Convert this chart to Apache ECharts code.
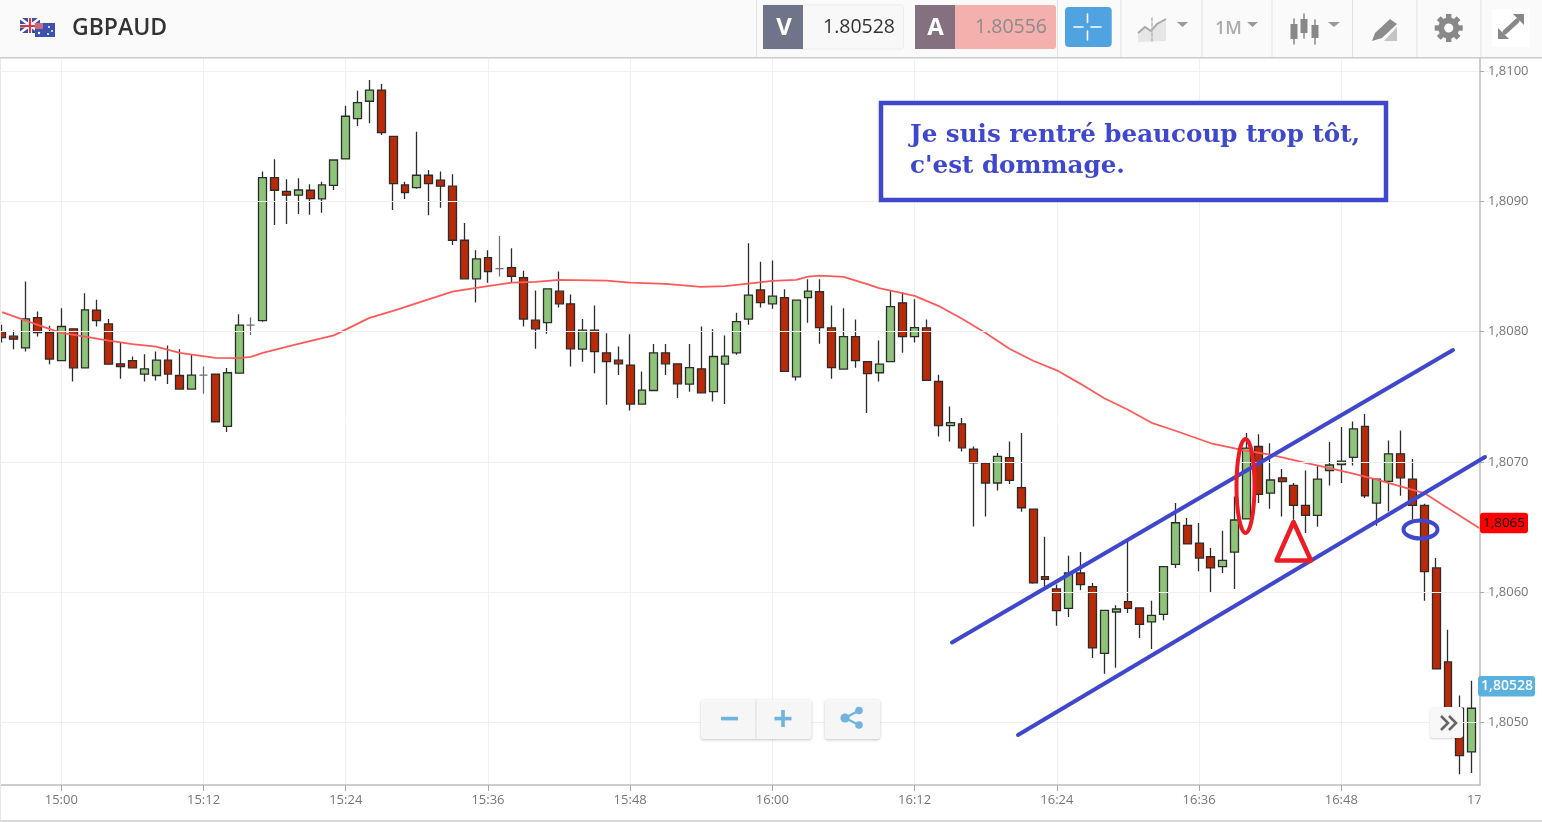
<!DOCTYPE html>
<html><head><meta charset="utf-8">
<style>html,body{margin:0;padding:0;background:#fff}#c{width:1542px;height:822px}</style>
<script src="https://cdn.jsdelivr.net/npm/echarts@6/dist/echarts.min.js"></script>
</head><body><div id="c"></div>
<script>
const times = ['14:55','14:56','14:57','14:58','14:59','15:00','15:01','15:02','15:03','15:04','15:05','15:06','15:07','15:08','15:09','15:10','15:11','15:12','15:13','15:14','15:15','15:16','15:17','15:18','15:19','15:20','15:21','15:22','15:23','15:24','15:25','15:26','15:27','15:28','15:29','15:30','15:31','15:32','15:33','15:34','15:35','15:36','15:37','15:38','15:39','15:40','15:41','15:42','15:43','15:44','15:45','15:46','15:47','15:48','15:49','15:50','15:51','15:52','15:53','15:54','15:55','15:56','15:57','15:58','15:59','16:00','16:01','16:02','16:03','16:04','16:05','16:06','16:07','16:08','16:09','16:10','16:11','16:12','16:13','16:14','16:15','16:16','16:17','16:18','16:19','16:20','16:21','16:22','16:23','16:24','16:25','16:26','16:27','16:28','16:29','16:30','16:31','16:32','16:33','16:34','16:35','16:36','16:37','16:38','16:39','16:40','16:41','16:42','16:43','16:44','16:45','16:46','16:47','16:48','16:49','16:50','16:51','16:52','16:53','16:54','16:55','16:56','16:57','16:58','16:59','17:00'];
const xTickLabels = ['15:00','15:12','15:24','15:36','15:48','16:00','16:12','16:24','16:36','16:48','17:00'];
const yTickLabels = [1.805,1.806,1.807,1.808,1.809,1.81];
const opens = [1.808000,1.807965,1.807875,1.808108,1.807993,1.807778,1.808021,1.807722,1.808165,1.808059,
1.807753,1.807778,1.807674,1.807663,1.807781,1.807663,1.807559,1.807666,1.807674,1.807272,
1.807681,1.808050,1.808085,1.809182,1.809077,1.809047,1.809085,1.809018,1.809123,1.809325,
1.809634,1.809768,1.809854,1.809499,1.809126,1.809105,1.809200,1.809162,1.809116,1.808701,
1.808405,1.808568,1.808484,1.808491,1.808415,1.808088,1.808069,1.808310,1.808213,1.807865,
1.808011,1.807837,1.807781,1.807743,1.807444,1.807548,1.807837,1.807753,1.807597,1.807714,
1.807540,1.807750,1.807837,1.808096,1.808320,1.808213,1.808261,1.807653,1.808261,1.808307,
1.808029,1.807712,1.807962,1.807770,1.807684,1.807770,1.808221,1.807962,1.808029,1.807617,
1.807279,1.807292,1.807098,1.806991,1.806838,1.807032,1.806802,1.806638,1.806119,1.806025,
1.805876,1.806147,1.806042,1.805531,1.805848,1.805927,1.805879,1.805772,1.805830,1.806213,
1.806512,1.806377,1.806272,1.806196,1.806308,1.806562,1.807118,1.806761,1.806878,1.806819,
1.806666,1.806589,1.806934,1.806980,1.807034,1.807272,1.806684,1.806850,1.807062,1.806868,
1.806666,1.806186,1.805465,1.805110,1.804774];
const closes = [1.807954,1.807942,1.808098,1.807993,1.807789,1.808039,1.807722,1.808167,1.808085,1.807750,
1.807732,1.807722,1.807714,1.807781,1.807674,1.807559,1.807666,1.807666,1.807308,1.807684,
1.808050,1.808050,1.809182,1.809085,1.809047,1.809087,1.809021,1.809126,1.809317,1.809653,
1.809757,1.809854,1.809527,1.809136,1.809067,1.809200,1.809136,1.809116,1.808701,1.808405,
1.808558,1.808461,1.808484,1.808425,1.808096,1.808021,1.808328,1.808213,1.807868,1.808011,
1.807847,1.807770,1.807753,1.807444,1.807551,1.807837,1.807753,1.807599,1.807724,1.807530,
1.807809,1.807812,1.808077,1.808280,1.808223,1.808272,1.807694,1.808241,1.808310,1.808031,
1.807724,1.807962,1.807778,1.807678,1.807750,1.808192,1.807962,1.808031,1.807625,1.807279,
1.807302,1.807108,1.806993,1.806838,1.807042,1.806858,1.806648,1.806071,1.806098,1.805858,
1.806147,1.806058,1.805572,1.805860,1.805871,1.805876,1.805753,1.805822,1.806196,1.806533,
1.806370,1.806262,1.806186,1.806244,1.806554,1.807106,1.806750,1.806861,1.806848,1.806666,
1.806589,1.806868,1.806976,1.807006,1.807254,1.806740,1.806868,1.807062,1.806878,1.806666,
1.806157,1.805411,1.805114,1.804746,1.805109];
const lows = [1.807916,1.807865,1.807847,1.807962,1.807750,1.807778,1.807617,1.807722,1.808039,1.807745,
1.807638,1.807722,1.807617,1.807625,1.807597,1.807559,1.807559,1.807523,1.807302,1.807229,
1.807681,1.807973,1.808075,1.808819,1.808826,1.808903,1.808896,1.808913,1.809087,1.809325,
1.809578,1.809599,1.809509,1.808934,1.809018,1.809097,1.808893,1.808951,1.808665,1.808405,
1.808223,1.808374,1.808422,1.808376,1.808039,1.807868,1.807983,1.808185,1.807732,1.807768,
1.807681,1.807438,1.807666,1.807395,1.807444,1.807548,1.807666,1.807490,1.807538,1.807530,
1.807464,1.807444,1.807822,1.808052,1.808185,1.808175,1.807694,1.807625,1.808067,1.807906,
1.807638,1.807712,1.807722,1.807375,1.807617,1.807770,1.807837,1.807916,1.807625,1.807195,
1.807157,1.807080,1.806505,1.806581,1.806781,1.806830,1.806618,1.806065,1.806045,1.805743,
1.805810,1.806014,1.805495,1.805373,1.805419,1.805841,1.805649,1.805564,1.805784,1.806186,
1.806370,1.806160,1.805994,1.806147,1.806025,1.806562,1.806684,1.806641,1.806581,1.806556,
1.806454,1.806502,1.806819,1.806838,1.806973,1.806723,1.806510,1.806620,1.806740,1.806556,
1.805935,1.805411,1.805100,1.804603,1.804613];
const highs = [1.808052,1.808008,1.808384,1.808154,1.808044,1.808180,1.808021,1.808295,1.808244,1.808096,
1.807916,1.807809,1.807827,1.807847,1.807893,1.807865,1.807827,1.807732,1.807674,1.807720,
1.808134,1.808108,1.809228,1.809323,1.809169,1.809177,1.809131,1.809151,1.809317,1.809734,
1.809849,1.809931,1.809900,1.809499,1.809151,1.809534,1.809241,1.809228,1.809208,1.808834,
1.808625,1.808625,1.808734,1.808640,1.808468,1.808315,1.808328,1.808461,1.808284,1.808096,
1.808200,1.807988,1.807885,1.807980,1.807694,1.807904,1.807904,1.807753,1.807904,1.808039,
1.808019,1.807970,1.808144,1.808678,1.808537,1.808545,1.808326,1.808241,1.808402,1.808402,
1.808200,1.808180,1.808092,1.807775,1.807931,1.808320,1.808303,1.808249,1.808092,1.807668,
1.807425,1.807336,1.807118,1.806991,1.807068,1.807157,1.807221,1.806638,1.806426,1.806058,
1.806280,1.806308,1.806071,1.805864,1.805899,1.806390,1.805879,1.805935,1.806196,1.806684,
1.806569,1.806531,1.806339,1.806472,1.806735,1.807221,1.807213,1.807144,1.806945,1.806838,
1.806934,1.806973,1.807152,1.807267,1.807310,1.807367,1.806868,1.807164,1.807241,1.807022,
1.806679,1.806262,1.805712,1.805206,1.805321];
const maTimes = ['14:55','14:57','14:58','15:00','15:02','15:04','15:06','15:08','15:10','15:13','15:15','15:16','15:17','15:20','15:23','15:26','15:28','15:33','15:35','15:38','15:40','15:42','15:46','15:48','15:51','15:54','15:56','15:58','16:00','16:02','16:03','16:04','16:06','16:08','16:09','16:12','16:14','16:16','16:18','16:20','16:22','16:24','16:26','16:28','16:30','16:32','16:34','16:37','16:40','16:42','16:45','16:47','16:49','16:51','16:55','16:56','16:58','16:59','17:00'];
const maValues = [1.808149,1.808085,1.808052,1.807990,1.807962,1.807931,1.807904,1.807885,1.807837,1.807799,1.807796,1.807806,1.807837,1.807906,1.807971,1.808105,1.808159,1.808307,1.808336,1.808376,1.808382,1.808397,1.808392,1.808376,1.808366,1.808343,1.808349,1.808369,1.808389,1.808397,1.808422,1.808430,1.808420,1.808364,1.808333,1.808274,1.808198,1.808098,1.807990,1.807868,1.807776,1.807703,1.807599,1.807488,1.807400,1.807300,1.807239,1.807143,1.807085,1.807055,1.806993,1.806953,1.806909,1.806863,1.806761,1.806702,1.806587,1.806529,1.806472];

const candleData = times.map((t,i)=> i<opens.length ? [opens[i],closes[i],lows[i],highs[i]] : '-');
const maData = maTimes.map((t,i)=>[t,maValues[i]]);
const isTick = (i)=>xTickLabels.indexOf(times[i])>=0;
const fmtY = v=>v.toFixed(4).replace('.',',');

const G=[];
const rect=(x,y,w,h,fill,z,extra)=>G.push(Object.assign({type:'rect',shape:{x,y,width:w,height:h,r:(extra&&extra.r)||0},style:Object.assign({fill},(extra&&extra.style)||{}),z,silent:true},extra&&extra.px!==undefined?{rotation:extra.rot,x:extra.px,y:extra.py}:{}));
const line=(x1,y1,x2,y2,stroke,lw,z,dash)=>G.push({type:'line',shape:{x1,y1,x2,y2},style:{stroke,lineWidth:lw,lineCap:'round',lineDash:dash||null},z,silent:true});
const poly=(pts,fill,z)=>G.push({type:'polygon',shape:{points:pts},style:{fill},z,silent:true});
const text=(t,x,y,font,fill,z,align)=>G.push({type:'text',style:{text:t,x,y,font,fill,textAlign:align||'left',textVerticalAlign:'middle'},z,silent:true});
const circ=(cx,cy,r,fill,z)=>G.push({type:'circle',shape:{cx,cy,r},style:{fill},z,silent:true});

// right margin cover (between series and y axis)
rect(1480.5,58,62,764,'#ffffff',3);
rect(0,820,1542,2,'#d9d9d9',4);
rect(0,58,1,762,'#e8e8e8',4);

// header
const HZ=10;
rect(0,0,1542,57,'#fafafa',HZ);
rect(0,57,1542,1.4,'#cccccc',HZ);
[756,1057,1120.5,1201.5,1271.5,1352,1416.5,1480.5].forEach(x=>rect(x,0,1,57,'#e2e2e2',HZ));
// flags
rect(20,18,20,15,'#3b4ea6',HZ+1);
line(20,18,40,33,'#ffffff',2.5,HZ+1); line(40,18,20,33,'#ffffff',2.5,HZ+1);
rect(28,18,4,15,'#f2f2f2',HZ+1); rect(20,24,20,3.5,'#f2f2f2',HZ+1);
rect(29,18,2,15,'#dc3545',HZ+1); rect(20,25,20,2,'#dc3545',HZ+1);
rect(35,23,20,14,'#3b52ae',HZ+2);
rect(35,23,8,6,'#c86a80',HZ+2);
circ(39,33,1.2,'#fff',HZ+2); circ(49,27,1,'#fff',HZ+2); circ(52,31,1,'#fff',HZ+2); circ(48,34,1,'#fff',HZ+2);
text('GBPAUD',72,28.5,'600 23px "Open Sans"','#333333',HZ+1);
// V / A
rect(763,5,140.5,44,'#f8f8f8',HZ+1,{r:3,style:{stroke:'#ececec',lineWidth:1}});
rect(763,5,40,44,'#6f7488',HZ+1);
text('V',784,28,'700 24px "Open Sans"','#ffffff',HZ+2,'center');
text('1.80528',895,27.5,'400 19.5px "Open Sans"','#333333',HZ+2,'right');
rect(915,5,141,44,'#f4b0ad',HZ+1,{r:3});
rect(915,5,40,44,'#84707f',HZ+1);
text('A',935.5,28,'700 24px "Open Sans"','#ffffff',HZ+2,'center');
text('1.80556',1047,27.5,'400 19.5px "Open Sans"','#8b8b8b',HZ+2,'right');
// crosshair button
rect(1065,7,46.7,40,'#4ea3e0',HZ+1,{r:4});
line(1074,27,1083,27,'#fff',1.6,HZ+2); line(1091,27,1101,27,'#fff',1.6,HZ+2);
line(1087.5,14,1087.5,22.5,'#fff',1.6,HZ+2); line(1087.5,31,1087.5,40,'#fff',1.6,HZ+2);
// chart-type icon
poly([[1138,42],[1138,33],[1145,27],[1151,31],[1157,24],[1166,19],[1166,41]],'#e6e6e6',HZ+1);
G.push({type:'polyline',shape:{points:[[1138,33],[1145,27],[1151,31],[1157,24],[1166,19]]},style:{stroke:'#a9a9a9',lineWidth:2,fill:null},z:HZ+2,silent:true});
line(1152,18,1152,42,'#b5b5b5',1.5,HZ+2,[3,2]);
poly([[1177,22],[1188,22],[1182.5,27]],'#999999',HZ+1);
text('1M',1215,28.5,'600 18px "Open Sans"','#ababab',HZ+1);
poly([[1247,22],[1258,22],[1252.5,27]],'#999999',HZ+1);
// candle icon
[[1294,19,44,24,39],[1304,14,38,19,33],[1315,20,44,25,38]].forEach(c=>{line(c[0],c[1],c[0],c[2],'#888888',1.5,HZ+1);rect(c[0]-3.5,c[3],7,c[4]-c[3],'#888888',HZ+1);});
poly([[1328,22],[1340,22],[1334,27]],'#999999',HZ+1);
// pencil/analysis icon
poly([[1384,41],[1397,41],[1397,27]],'#c4c4c4',HZ+1);
poly([[1375,33],[1390,19],[1397,24],[1382,38],[1372,41]],'#8c8c8c',HZ+2);
// gear
[0,Math.PI/4,Math.PI/2,3*Math.PI/4].forEach(a=>rect(-2.7,-14,5.4,28,'#888888',HZ+1,{rot:a,px:1448.7,py:28}));
circ(1448.7,28,10.5,'#888888',HZ+1); circ(1448.7,28,4.6,'#fafafa',HZ+2);
// expand
rect(1492,9,38,38,'#ffffff',HZ+1);
line(1505,32,1517,21,'#888888',5,HZ+2);
poly([[1513,14],[1524,14],[1524,25]],'#888888',HZ+2);
poly([[1498,28],[1498,39],[1509,39]],'#888888',HZ+2);

// price tags
rect(1480,512.7,48,20.5,'#ff0000',9,{r:3});
text('1,8065',1504,523.5,'13.5px "Open Sans"','#111111',9.5,'center');
rect(1478,676,57,20.5,'#5ab0de',9,{r:3});
text('1,80528',1507,686.5,'600 14px "Open Sans"','#ffffff',9.5,'center');

// zoom controls
const sh={shadowBlur:3,shadowColor:'rgba(0,0,0,0.25)',shadowOffsetY:1,opacity:0.92};
rect(701,699.5,110.5,39.5,'#fafafa',6,{r:3,style:sh});
rect(825,699.5,55,39.5,'#fafafa',6,{r:3,style:sh});
rect(755.5,699.5,0.8,39.5,'#d5d5d5',6);
rect(721,716.8,17,3.6,'#6fb3de',7);
rect(774.5,716.8,17,3.6,'#6fb3de',7); rect(781.2,710,3.6,17,'#6fb3de',7);
line(845,718,859,710.5,'#6fb3de',2.4,7); line(845,718,859,725,'#6fb3de',2.4,7);
circ(845,718,4.6,'#6fb3de',7); circ(859,710.5,3.8,'#6fb3de',7); circ(859,725,3.8,'#6fb3de',7);
// scroll button
rect(1430,707,33,31,'#f8f8f8',8.2,{r:3,style:{shadowBlur:2,shadowColor:'rgba(0,0,0,0.18)',shadowOffsetY:1}});
G.push({type:'polyline',shape:{points:[[1441,716],[1448,723],[1441,730]]},style:{stroke:'#666',lineWidth:2.6,fill:null},z:8.3,silent:true});
G.push({type:'polyline',shape:{points:[[1449,716],[1456,723],[1449,730]]},style:{stroke:'#666',lineWidth:2.6,fill:null},z:8.3,silent:true});

// hand-drawn annotations
const BL='#3f48cc',RD='#ed1c24';
G.push({type:'line',shape:{x1:952,y1:642.5,x2:1453,y2:350},style:{stroke:BL,lineWidth:4,lineCap:'round'},z:8,silent:true});
G.push({type:'line',shape:{x1:1018,y1:735,x2:1485,y2:457},style:{stroke:BL,lineWidth:4,lineCap:'round'},z:8,silent:true});
G.push({type:'ellipse',shape:{cx:1245.5,cy:486,rx:9,ry:47},style:{stroke:RD,lineWidth:4,fill:null},z:8,silent:true});
G.push({type:'ellipse',shape:{cx:1420.5,cy:529.5,rx:17,ry:9},style:{stroke:BL,lineWidth:4,fill:null},z:8,silent:true});
G.push({type:'polygon',shape:{points:[[1293.5,522],[1276.5,560.5],[1311,560.5]]},style:{stroke:RD,lineWidth:4.5,fill:null,lineJoin:'round'},z:8,silent:true});
G.push({type:'rect',shape:{x:881,y:103,width:505,height:97},style:{stroke:BL,lineWidth:4.5,fill:'#ffffff'},z:8,silent:true});
text("Je suis rentré beaucoup trop tôt,",910,136,'700 24.6px "DejaVu Serif"',BL,8.5);
text("c'est dommage.",910,167,'700 24.6px "DejaVu Serif"',BL,8.5);

const chart=echarts.init(document.getElementById('c'),null,{renderer:'canvas'});
chart.setOption({
  animation:false,
  backgroundColor:'#ffffff',
  grid:{left:-3.89,top:58,width:1493.35,height:727,containLabel:false,outerBoundsMode:'none'},
  xAxis:{type:'category',data:times,boundaryGap:true,z:0,
    axisLine:{lineStyle:{color:'#bdbdbd',width:1.5}},
    axisTick:{show:true,alignWithLabel:true,length:6,interval:isTick,lineStyle:{color:'#aaaaaa'}},
    axisLabel:{interval:isTick,color:'#777777',fontSize:13,fontFamily:'"Open Sans"',margin:9,showMaxLabel:true,hideOverlap:false},
    splitLine:{show:true,alignWithLabel:true,interval:isTick,lineStyle:{color:'#f0f0f0',width:1}}},
  yAxis:{type:'value',position:'right',offset:-9.46,min:1.80452,max:1.8101,z:5,scale:true,
    axisLine:{show:true,lineStyle:{color:'#bdbdbd',width:1.5}},
    axisTick:{show:true,length:4,customValues:yTickLabels,lineStyle:{color:'#aaaaaa'}},
    axisLabel:{color:'#777777',fontSize:13,fontFamily:'"Open Sans"',margin:8,customValues:yTickLabels,formatter:fmtY},
    splitLine:{show:true,lineStyle:{color:'#f0f0f0',width:1}}},
  series:[
    {type:'candlestick',data:candleData,barWidth:8.4,z:2,clip:true,
     itemStyle:{color:'#8dc47a',color0:'#b82a08',borderColor:'#2c2c2c',borderColor0:'#2c2c2c',borderColorDoji:'#6f6f6f',borderWidth:1.3}},
    {type:'line',data:maData,showSymbol:false,symbol:'none',smooth:false,z:2.5,clip:true,
     lineStyle:{color:'#ff5a5a',width:1.8}}
  ],
  graphic:{elements:G}
});
</script></body></html>
